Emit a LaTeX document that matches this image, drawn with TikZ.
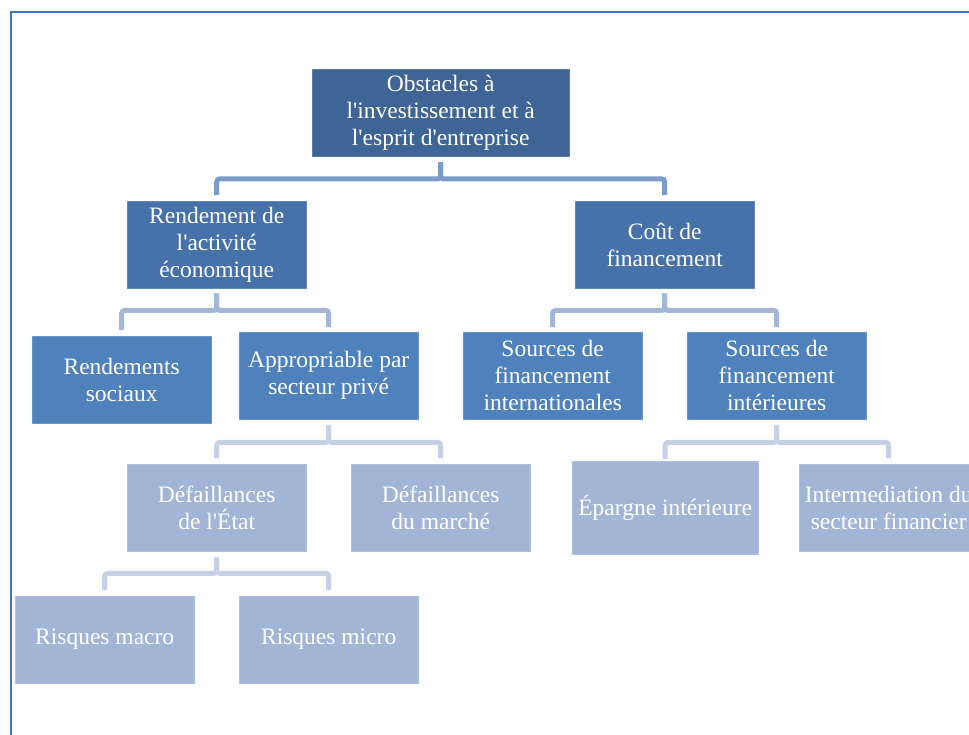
\documentclass[tikz,border=0pt]{standalone}
\usepackage{fontspec}
\setmainfont{Liberation Serif}
\usepackage{xcolor}
\usepackage{tikz}
\usetikzlibrary{calc}
\usetikzlibrary{positioning}

\definecolor{lvlA}{HTML}{3E6596}
\definecolor{lvlB}{HTML}{4672A9}
\definecolor{lvlC}{HTML}{4F81BD}
\definecolor{lvlD}{HTML}{A3B5D6}
\definecolor{lnA}{HTML}{7B9BCB}
\definecolor{lnB}{HTML}{A4B7D9}
\definecolor{lnC}{HTML}{C6D1E6}
\definecolor{frame}{HTML}{3A78CC}
\newcommand{\apos}{\textquotesingle}

\begin{document}
\begin{tikzpicture}[x=1pt,y=-1pt]
	\tikzstyle{box}=[rectangle, anchor=north west, inner sep=0pt, minimum width=179pt, minimum height=87pt, align=center, text=white, font=\fontsize{23.5}{27}\selectfont]
	\tikzstyle{conn}=[line width=5pt, rounded corners=3pt]
	\clip (0,0) rectangle (969,735);
	\fill[white] (0,0) rectangle (969,735);
	\draw[frame, line width=2pt] (11,12) rectangle (1000,760);

	\node[box, fill=lvlA, draw=lvlA!85!white, minimum width=257pt] (O) at (312,69) {Obstacles à\\l\apos investissement et à\\l\apos esprit d\apos entreprise};
	\node[box, fill=lvlB, draw=lvlB!85!white] (R) at (127,201) {Rendement de\\l\apos activité\\économique};
	\node[box, fill=lvlB, draw=lvlB!85!white] (C) at (575,201) {Coût de\\financement};
	\node[box, fill=lvlC, draw=lvlC!85!white] (RS) at (32,336) {Rendements\\sociaux};
	\node[box, fill=lvlC, draw=lvlC!85!white] (AP) at (239,332) {Appropriable par\\secteur privé};
	\node[box, fill=lvlC, draw=lvlC!85!white] (SI) at (463,332) {Sources de\\financement\\internationales};
	\node[box, fill=lvlC, draw=lvlC!85!white] (SD) at (687,332) {Sources de\\financement\\intérieures};
	\node[box, fill=lvlD, draw=lvlD!85!white] (DE) at (127,464) {Défaillances\\de l\apos État};
	\node[box, fill=lvlD, draw=lvlD!85!white] (DM) at (351,464) {Défaillances\\du marché};
	\node[box, fill=lvlD, draw=lvlD!85!white, minimum width=186pt, minimum height=93pt] (EP) at (572,461) {Épargne intérieure};
	\node[box, fill=lvlD, draw=lvlD!85!white] (IF) at (799,464) {Intermediation du\\secteur financier};
	\node[box, fill=lvlD, draw=lvlD!85!white] (RM) at (15,596) {Risques macro};
	\node[box, fill=lvlD, draw=lvlD!85!white] (RI) at (239,596) {Risques micro};

	% connectors
	\draw[conn, lnA] ([yshift=-6pt]O.south) -- ++(0,16.5) -| ([yshift=6pt]R.north);
	\draw[conn, lnA] ([yshift=-6pt]O.south) -- ++(0,16.5) -| ([yshift=6pt]C.north);
	\draw[conn, lnB] ([yshift=-5pt]R.south) -- ++(0,17) -| ([yshift=6pt]RS.north);
	\draw[conn, lnB] ([yshift=-5pt]R.south) -- ++(0,17) -| ([yshift=5pt]AP.north);
	\draw[conn, lnB] ([yshift=-5pt]C.south) -- ++(0,17) -| ([yshift=5pt]SI.north);
	\draw[conn, lnB] ([yshift=-5pt]C.south) -- ++(0,17) -| ([yshift=5pt]SD.north);
	\draw[conn, lnC] ([yshift=-6pt]AP.south) -- ++(0,17) -| ([yshift=6pt]DE.north);
	\draw[conn, lnC] ([yshift=-6pt]AP.south) -- ++(0,17) -| ([yshift=6pt]DM.north);
	\draw[conn, lnC] ([yshift=-6pt]SD.south) -- ++(0,17) -| ([yshift=2pt]EP.north);
	\draw[conn, lnC] ([yshift=-6pt]SD.south) -- ++(0,17) -| ([yshift=6pt]IF.north);
	\draw[conn, lnC] ([yshift=-6pt]DE.south) -- ++(0,16) -| ([yshift=6pt]RM.north);
	\draw[conn, lnC] ([yshift=-6pt]DE.south) -- ++(0,16) -| ([yshift=6pt]RI.north);
\end{tikzpicture}
\end{document}
